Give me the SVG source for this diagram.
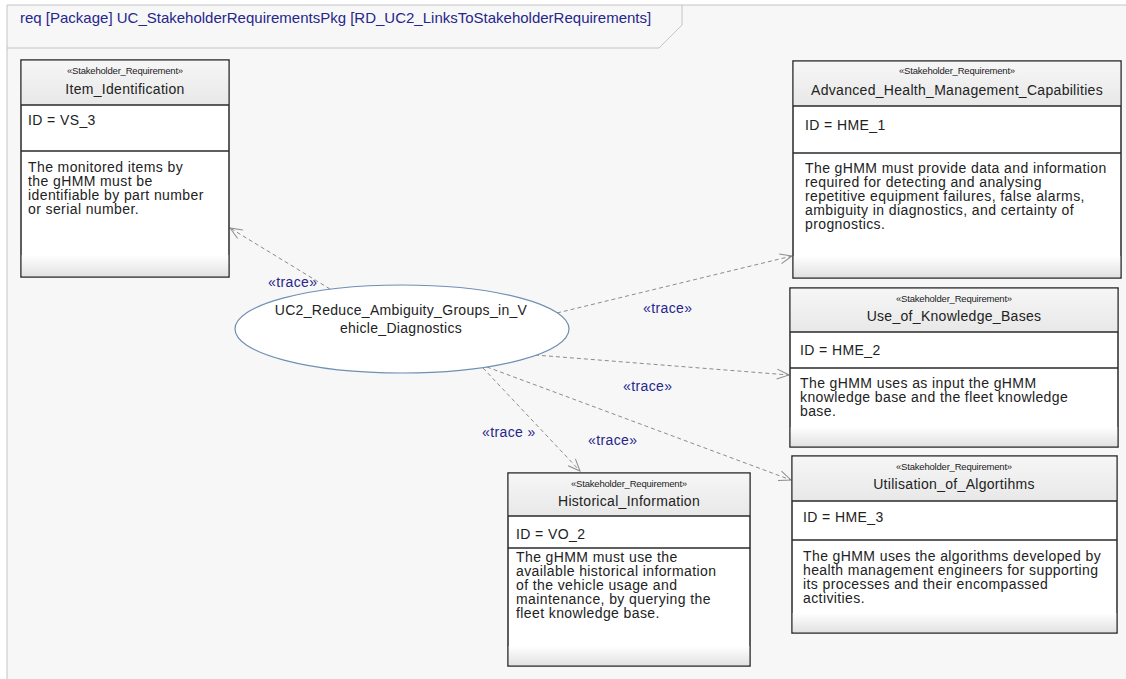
<svg xmlns="http://www.w3.org/2000/svg" width="1126" height="679" viewBox="0 0 1126 679">
<style>
.frame{fill:none;stroke:#c4c4c4;stroke-width:1}
.title{font-family:"Liberation Sans",Arial,sans-serif;font-size:15px;fill:#26268c}
.box{fill:#ffffff;stroke:#2a2a2a;stroke-width:1.5}
.div{stroke:#2a2a2a;stroke-width:1.5}
.st{font-family:"Liberation Sans",Arial,sans-serif;font-size:9.5px;fill:#222;text-anchor:middle;letter-spacing:-0.2px}
.nm{font-family:"Liberation Sans",Arial,sans-serif;font-size:14px;fill:#222;text-anchor:middle;letter-spacing:0.3px}
.tx{font-family:"Liberation Sans",Arial,sans-serif;font-size:14px;fill:#222;letter-spacing:0.4px}
.uc{fill:#ffffff;stroke:#6f8fb3;stroke-width:1.2}
.edge{fill:none;stroke:#8c8c8c;stroke-width:1;stroke-dasharray:4 3}
.lbl{font-family:"Liberation Sans",Arial,sans-serif;font-size:14px;fill:#26268c;letter-spacing:0.4px}
</style>
<defs>
<linearGradient id="hdr" x1="0" y1="0" x2="0" y2="1">
<stop offset="0" stop-color="#f6f6f6"/>
<stop offset="1" stop-color="#e8e8e8"/>
</linearGradient>
<linearGradient id="fade" x1="0" y1="0" x2="0" y2="1">
<stop offset="0" stop-color="#ffffff"/>
<stop offset="1" stop-color="#e2e2e2"/>
</linearGradient>
<marker id="open" viewBox="-13 -7 15 14" refX="0" refY="0" markerWidth="15" markerHeight="14" markerUnits="userSpaceOnUse" orient="auto">
<path d="M-12,-5 L0,0 L-12,5" fill="none" stroke="#8c8c8c" stroke-width="1"/>
</marker>
</defs>
<rect x="0" y="0" width="1126" height="679" fill="#ffffff"/>
<rect x="7" y="5" width="1119" height="674" fill="#f7f7f7"/>
<g id="frame">
<path class="frame" d="M7,679 L7,5 L1126,5"/>
<path class="frame" d="M7,48 L659,48 L682,25 L682,5"/>
<text class="title" x="20" y="23">req [Package] UC_StakeholderRequirementsPkg [RD_UC2_LinksToStakeholderRequirements]</text>
</g>
<g id="connectors">
<path class="edge" d="M330,289 L230,228" marker-end="url(#open)"/>
<path class="edge" d="M557,313 L792,256" marker-end="url(#open)"/>
<path class="edge" d="M535,355 L789,375" marker-end="url(#open)"/>
<path class="edge" d="M483,368 L580,471" marker-end="url(#open)"/>
<path class="edge" d="M487,367 L791,480" marker-end="url(#open)"/>
<text class="lbl" x="268" y="287">«trace»</text>
<text class="lbl" x="643" y="313">«trace»</text>
<text class="lbl" x="623" y="391">«trace»</text>
<text class="lbl" x="482" y="437">«trace »</text>
<text class="lbl" x="588" y="445">«trace»</text>
</g>
<g id="uc2">
<ellipse class="uc" cx="402" cy="329" rx="167" ry="44"/>
<text class="nm" x="401" y="315">UC2_Reduce_Ambiguity_Groups_in_V</text>
<text class="nm" x="401" y="333">ehicle_Diagnostics</text>
</g>
<g id="item_identification">
<rect class="box" x="21" y="60" width="208" height="217"/>
<rect x="21.75" y="60.75" width="206.5" height="44.25" fill="url(#hdr)"/>
<rect x="21.75" y="255" width="206.5" height="21.25" fill="url(#fade)"/>
<line class="div" x1="21" y1="105" x2="229" y2="105"/>
<line class="div" x1="21" y1="151" x2="229" y2="151"/>
<text class="st" x="125" y="74">«Stakeholder_Requirement»</text>
<text class="nm" x="125" y="94">Item_Identification</text>
<text class="tx" x="28" y="125">ID = VS_3</text>
<text class="tx" x="28" y="172">The monitored items by</text>
<text class="tx" x="28" y="186">the gHMM must be</text>
<text class="tx" x="28" y="200">identifiable by part number</text>
<text class="tx" x="28" y="214">or serial number.</text>
</g>
<g id="advanced_health_management_capabilities">
<rect class="box" x="793" y="61" width="328" height="217"/>
<rect x="793.75" y="61.75" width="326.5" height="44.25" fill="url(#hdr)"/>
<rect x="793.75" y="256" width="326.5" height="21.25" fill="url(#fade)"/>
<line class="div" x1="793" y1="106" x2="1121" y2="106"/>
<line class="div" x1="793" y1="153" x2="1121" y2="153"/>
<text class="st" x="957" y="74">«Stakeholder_Requirement»</text>
<text class="nm" x="957" y="95">Advanced_Health_Management_Capabilities</text>
<text class="tx" x="805" y="130">ID = HME_1</text>
<text class="tx" x="805" y="173">The gHMM must provide data and information</text>
<text class="tx" x="805" y="187">required for detecting and analysing</text>
<text class="tx" x="805" y="201">repetitive equipment failures, false alarms,</text>
<text class="tx" x="805" y="215">ambiguity in diagnostics, and certainty of</text>
<text class="tx" x="805" y="229">prognostics.</text>
</g>
<g id="use_of_knowledge_bases">
<rect class="box" x="790" y="288" width="328" height="159"/>
<rect x="790.75" y="288.75" width="326.5" height="43.25" fill="url(#hdr)"/>
<rect x="790.75" y="427" width="326.5" height="19.25" fill="url(#fade)"/>
<line class="div" x1="790" y1="332" x2="1118" y2="332"/>
<line class="div" x1="790" y1="368" x2="1118" y2="368"/>
<text class="st" x="954" y="302">«Stakeholder_Requirement»</text>
<text class="nm" x="954" y="321">Use_of_Knowledge_Bases</text>
<text class="tx" x="800" y="355">ID = HME_2</text>
<text class="tx" x="800" y="388">The gHMM uses as input the gHMM</text>
<text class="tx" x="800" y="402">knowledge base and the fleet knowledge</text>
<text class="tx" x="800" y="416">base.</text>
</g>
<g id="utilisation_of_algortihms">
<rect class="box" x="792" y="456" width="325" height="177"/>
<rect x="792.75" y="456.75" width="323.5" height="44.25" fill="url(#hdr)"/>
<rect x="792.75" y="613" width="323.5" height="19.25" fill="url(#fade)"/>
<line class="div" x1="792" y1="501" x2="1117" y2="501"/>
<line class="div" x1="792" y1="540" x2="1117" y2="540"/>
<text class="st" x="954" y="470">«Stakeholder_Requirement»</text>
<text class="nm" x="954" y="489">Utilisation_of_Algortihms</text>
<text class="tx" x="803" y="522">ID = HME_3</text>
<text class="tx" x="803" y="561">The gHMM uses the algorithms developed by</text>
<text class="tx" x="803" y="575">health management engineers for supporting</text>
<text class="tx" x="803" y="589">its processes and their encompassed</text>
<text class="tx" x="803" y="603">activities.</text>
</g>
<g id="historical_information">
<rect class="box" x="508" y="473" width="242" height="193"/>
<rect x="508.75" y="473.75" width="240.5" height="42.25" fill="url(#hdr)"/>
<rect x="508.75" y="646" width="240.5" height="19.25" fill="url(#fade)"/>
<line class="div" x1="508" y1="516" x2="750" y2="516"/>
<line class="div" x1="508" y1="548" x2="750" y2="548"/>
<text class="st" x="629" y="487">«Stakeholder_Requirement»</text>
<text class="nm" x="629" y="506">Historical_Information</text>
<text class="tx" x="516" y="539">ID = VO_2</text>
<text class="tx" x="516" y="562">The gHMM must use the</text>
<text class="tx" x="516" y="576">available historical information</text>
<text class="tx" x="516" y="590">of the vehicle usage and</text>
<text class="tx" x="516" y="604">maintenance, by querying the</text>
<text class="tx" x="516" y="618">fleet knowledge base.</text>
</g>
</svg>
